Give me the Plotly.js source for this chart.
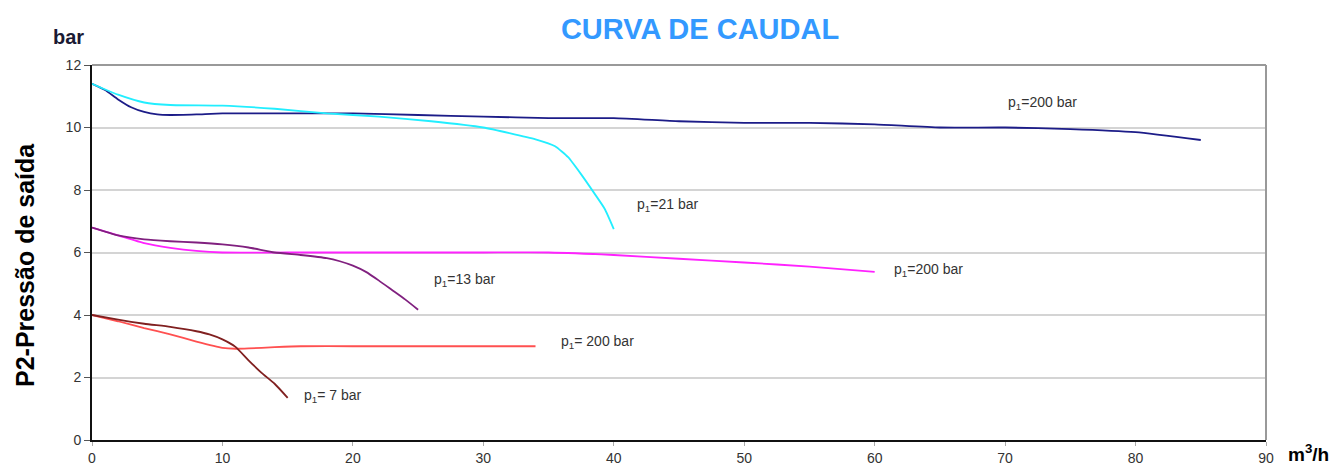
<!DOCTYPE html>
<html>
<head>
<meta charset="utf-8">
<script src="https://cdn.plot.ly/plotly-3.0.1.min.js"></script>
<style>html,body{margin:0;padding:0;background:#fff;}#chart{width:1340px;height:469px;}</style>
</head>
<body>
<div id="chart"></div>
<script>
// Flow (m3/h) and outlet pressure P2 (bar)
const navy200_x = [0, 1, 2, 3, 4, 5, 6, 8, 10, 15, 20, 25, 30, 35, 40, 45, 50, 55, 60, 65, 70, 75, 80, 85];
const navy200_y = [11.4, 11.2, 10.9, 10.65, 10.5, 10.42, 10.4, 10.42, 10.45, 10.45, 10.45, 10.4, 10.35, 10.3, 10.3, 10.2, 10.15, 10.15, 10.1, 10.0, 10.0, 9.95, 9.85, 9.6];

const cyan21_x = [0, 2, 4, 6, 10, 14, 18, 22, 26, 30, 32, 34, 35.5, 36.5, 37.5, 38.5, 39.3, 40];
const cyan21_y = [11.4, 11.05, 10.8, 10.72, 10.7, 10.6, 10.45, 10.35, 10.2, 10.0, 9.82, 9.62, 9.4, 9.05, 8.5, 7.9, 7.4, 6.75];

const mag200_x = [0, 2, 4, 6, 8, 10, 15, 20, 25, 30, 35, 40, 45, 50, 55, 60];
const mag200_y = [6.8, 6.55, 6.3, 6.15, 6.05, 6.0, 6.0, 6.0, 6.0, 6.0, 6.0, 5.92, 5.8, 5.68, 5.55, 5.38];

const purp13_x = [0, 2, 4, 6, 8, 10, 12, 14, 16, 18, 19, 20, 21, 22, 23, 24, 25];
const purp13_y = [6.8, 6.55, 6.42, 6.36, 6.32, 6.26, 6.16, 6.0, 5.92, 5.82, 5.72, 5.58, 5.38, 5.1, 4.8, 4.5, 4.17];

const red200_x = [0, 2, 4, 6, 8, 10, 11, 12, 14, 16, 20, 25, 30, 34];
const red200_y = [4.0, 3.8, 3.58, 3.38, 3.15, 2.95, 2.92, 2.93, 2.97, 3.0, 3.0, 3.0, 3.0, 3.0];

const brown7_x = [0, 2, 4, 6, 8, 9, 10, 11, 12, 13, 14, 15];
const brown7_y = [4.0, 3.85, 3.72, 3.62, 3.48, 3.38, 3.22, 2.98, 2.55, 2.15, 1.8, 1.35];

const xTicks = [0, 10, 20, 30, 40, 50, 60, 70, 80, 90];
const yTicks = [0, 2, 4, 6, 8, 10, 12];

const labels = [
  {text: 'p<sub>1</sub>=200 bar', x: 70.1, y: 10.78},
  {text: 'p<sub>1</sub>=21 bar', x: 41.6, y: 7.52},
  {text: 'p<sub>1</sub>=200 bar', x: 61.3, y: 5.44},
  {text: 'p<sub>1</sub>=13 bar', x: 26.1, y: 5.12},
  {text: 'p<sub>1</sub>= 200 bar', x: 35.8, y: 3.14},
  {text: 'p<sub>1</sub>= 7 bar', x: 16.1, y: 1.41}
];

function line(x, y, color, w) {
  return {x: x, y: y, type: 'scatter', mode: 'lines', line: {color: color, width: w, shape: 'spline', smoothing: 0.5}, hoverinfo: 'skip', showlegend: false};
}

const traces = [
  line(mag200_x, mag200_y, '#ff22ff', 1.8),
  line(purp13_x, purp13_y, '#80207f', 1.8),
  line(red200_x, red200_y, '#ff5050', 1.8),
  line(brown7_x, brown7_y, '#802020', 1.8),
  line(navy200_x, navy200_y, '#1c1c88', 1.8),
  line(cyan21_x, cyan21_y, '#22eeff', 1.8)
];

const FONT = 'Liberation Sans, Arial, sans-serif';

const annotations = labels.map(l => ({
  text: l.text, x: l.x, y: l.y, xref: 'x', yref: 'y', xanchor: 'left', yanchor: 'middle',
  showarrow: false, font: {family: FONT, size: 14, color: '#333'}
}));

annotations.push({
  text: '<b>P2-Pressão de saída</b>', xref: 'paper', yref: 'paper',
  x: (25 - 92) / 1174, y: (440 - 265) / 375, textangle: -90, showarrow: false,
  xanchor: 'center', yanchor: 'middle',
  font: {family: FONT, size: 25, color: '#000'}
});
annotations.push({
  text: '<b>bar</b>', xref: 'paper', yref: 'paper',
  x: (51 - 92) / 1174, y: (440 - 37) / 375, showarrow: false,
  xanchor: 'left', yanchor: 'middle',
  font: {family: FONT, size: 20, color: '#1a1a33'}
});
annotations.push({
  text: '<b>m<sup>3</sup>/h</b>', xref: 'paper', yref: 'paper',
  x: (1286 - 92) / 1174, y: (440 - 467) / 375, showarrow: false,
  xanchor: 'left', yanchor: 'bottom',
  font: {family: FONT, size: 19, color: '#000'}
});

const layout = {
  width: 1340, height: 469,
  margin: {l: 92, r: 74, t: 65, b: 29},
  paper_bgcolor: '#fff', plot_bgcolor: '#fff',
  title: {text: '<b>CURVA DE CAUDAL</b>', x: (694 - 92) / 1174 * (1174 / 1340) + 92 / 1340, xref: 'paper', xanchor: 'center', y: 1 - 29 / 469, yanchor: 'middle',
          font: {family: FONT, size: 29, color: '#3399ff'}},
  xaxis: {
    range: [0, 90], tickvals: xTicks, ticktext: xTicks.map(String),
    showgrid: false, zeroline: false, showline: true, linecolor: '#111', linewidth: 2,
    ticks: 'outside', ticklen: 4, tickcolor: '#aaa',
    tickfont: {family: FONT, size: 14, color: '#333'}
  },
  yaxis: {
    range: [0, 12], tickvals: yTicks, ticktext: yTicks.map(String),
    showgrid: true, gridcolor: '#d4d4d4', gridwidth: 2, zeroline: false,
    showline: true, linecolor: '#111', linewidth: 2,
    ticks: 'outside', ticklen: 6, tickcolor: '#555',
    tickfont: {family: FONT, size: 14, color: '#333'}
  },
  shapes: [
    {type: 'line', xref: 'paper', yref: 'paper', x0: 0, x1: 1, y0: 1, y1: 1, line: {color: '#999', width: 2}},
    {type: 'line', xref: 'paper', yref: 'paper', x0: 1, x1: 1, y0: 0, y1: 1, line: {color: '#999', width: 2}}
  ],
  annotations: annotations
};

Plotly.newPlot('chart', traces, layout, {displayModeBar: false, staticPlot: true});
</script>
</body>
</html>
